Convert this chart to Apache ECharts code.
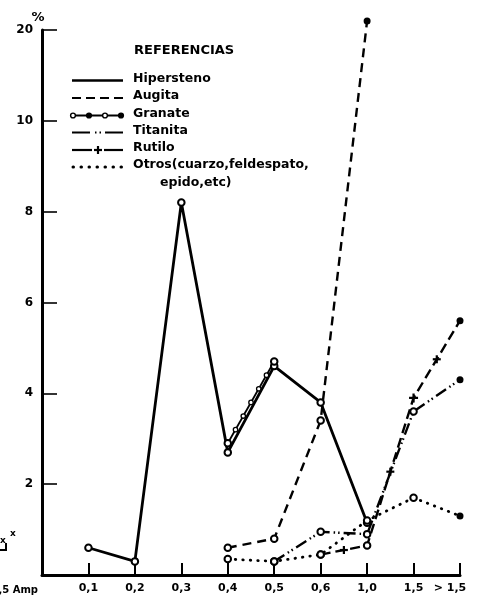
<!DOCTYPE html>
<html>
<head>
<meta charset="utf-8">
<script src="https://cdn.jsdelivr.net/npm/echarts@6/dist/echarts.min.js"></script>
<style>
  html, body { margin: 0; padding: 0; background: #fff; }
  #chart { width: 478px; height: 599px; }
</style>
</head>
<body>
<div id="chart"></div>
<script>
// Grain-size classes (first slot is the empty origin of the axis)
const categories = ['', '0,1', '0,2', '0,3', '0,4', '0,5', '0,6', '1,0', '1,5', '> 1,5'];

// Percentages per mineral and class
const hipersteno = [null, 0.6, 0.3, 8.2, 2.7, 4.6, 3.8, 1.15, null, null];
const augita     = [null, null, null, null, 0.6, 0.8, 3.4, 21, null, null];
const granate    = [null, null, null, null, 2.9, 4.7, null, null, null, null];
const titanita   = [null, null, null, null, null, 0.3, 0.95, 0.9, 3.6, 4.3];
const rutilo     = [null, null, null, null, null, null, 0.45, 0.65, 3.9, 5.6];
const otros      = [null, null, null, null, 0.35, 0.3, 0.45, 1.2, 1.7, 1.3];

// Values printed on the vertical axis
const yTickValues = [2, 4, 6, 8, 10, 20];

// The axis is linear up to 10 and compressed above it (10 -> 20 takes one step)
const BREAK = 10, SQUEEZE = 0.2;
function toAxis(v) {
  if (v == null) return null;
  return v <= BREAK ? v : BREAK + (v - BREAK) * SQUEEZE;
}

const INK = '#000';
const FONT = '"DejaVu Sans", "Liberation Sans", sans-serif';

function items(values, filledIdx, crossIdx) {
  return values.map(function (v, i) {
    if (v == null) return null;
    const it = { value: toAxis(v) };
    if (filledIdx && filledIdx.indexOf(i) >= 0) { it.symbol = 'circle'; it.symbolSize = 7; }
    if (crossIdx && crossIdx.indexOf(i) >= 0) {
      it.symbol = 'path://M3,0H5V3H8V5H5V8H3V5H0V3H3Z'; it.symbolSize = 9;
    }
    return it;
  });
}

function lineSeries(name, values, lineStyle, extra) {
  return Object.assign({
    name: name,
    type: 'line',
    data: items(values, extra && extra.filled, extra && extra.cross),
    connectNulls: false,
    clip: false,
    symbol: 'emptyCircle',
    symbolSize: 6.5,
    showSymbol: true,
    showAllSymbol: true,
    itemStyle: { color: INK, borderWidth: 1.6 },
    lineStyle: Object.assign({ color: INK, width: 2.4 }, lineStyle),
    emphasis: { disabled: true },
    animation: false,
    z: 3
  }, extra && extra.series);
}

// Decorations placed along each segment of a series, computed from the axis coordinates
function segmentDecor(values, draw) {
  return {
    type: 'custom',
    data: values.map(function (v, i) { return [i, v == null ? 0 : toAxis(v)]; }),
    clip: false,
    silent: true,
    animation: false,
    z: 4,
    renderItem: function (params, api) {
      const i = params.dataIndex;
      const a = values[i], b = values[i + 1];
      if (a == null || b == null) return;
      const p0 = api.coord([i, toAxis(a)]);
      const p1 = api.coord([i + 1, toAxis(b)]);
      return { type: 'group', children: draw(p0, p1) };
    }
  };
}

function crossAt(x, y, r) {
  return [
    { type: 'line', shape: { x1: x - r, y1: y, x2: x + r, y2: y }, style: { stroke: INK, lineWidth: 2.2 } },
    { type: 'line', shape: { x1: x, y1: y - r, x2: x, y2: y + r }, style: { stroke: INK, lineWidth: 2.2 } }
  ];
}

// Legend, drawn by hand so that each line pattern can be shown in full
const LX0 = 72, LX1 = 123, TX = 133;
const rowY = [78.5, 96, 113.5, 130.5, 148, 165];
const legendNames = ['Hipersteno', 'Augita', 'Granate', 'Titanita', 'Rutilo', 'Otros(cuarzo,feldespato,'];
const textFont = 'bold 12.5px ' + FONT;

function legendSample(k, y) {
  const s = y + 2;
  const base = { stroke: INK, lineWidth: 2.2 };
  switch (k) {
    case 0: return [{ type: 'line', shape: { x1: LX0, y1: s, x2: LX1, y2: s }, style: Object.assign({}, base, { lineWidth: 2.6 }) }];
    case 1: return [{ type: 'line', shape: { x1: LX0, y1: s, x2: LX1, y2: s }, style: Object.assign({}, base, { lineDash: [9, 5] }) }];
    case 2: {
      const out = [{ type: 'line', shape: { x1: LX0, y1: s, x2: LX1 - 2, y2: s }, style: Object.assign({}, base, { lineWidth: 1.8 }) }];
      [73, 89, 105, 121].forEach(function (x, j) {
        out.push({ type: 'circle', shape: { cx: x, cy: s, r: 2.4 }, style: { fill: j % 2 ? INK : '#fff', stroke: INK, lineWidth: 1.4 } });
      });
      return out;
    }
    case 3: return [{ type: 'line', shape: { x1: LX0, y1: s, x2: LX1, y2: s }, style: Object.assign({}, base, { lineDash: [18, 5, 1.5, 3, 1.5, 4] }) }];
    case 4: return [
      { type: 'line', shape: { x1: LX0, y1: s, x2: 92, y2: s }, style: base },
      { type: 'line', shape: { x1: 104, y1: s, x2: LX1, y2: s }, style: base }
    ].concat(crossAt(98, s, 4));
    default: return [{ type: 'line', shape: { x1: LX0 + 1, y1: s, x2: LX1, y2: s }, style: Object.assign({}, base, { lineWidth: 3, lineCap: 'round', lineDash: [0.5, 7.5] }) }];
  }
}

const legendGraphics = [{
  type: 'text', left: 134, top: 44,
  style: { text: 'REFERENCIAS', font: 'bold 13px ' + FONT, fill: INK }
}];
legendNames.forEach(function (n, k) {
  legendSample(k, rowY[k]).forEach(function (g) { legendGraphics.push(g); });
  legendGraphics.push({ type: 'text', x: TX, y: rowY[k], style: { text: n, font: textFont, fill: INK, verticalAlign: 'middle' } });
});
legendGraphics.push({ type: 'text', x: 160, y: 182.5, style: { text: 'epido,etc)', font: textFont, fill: INK, verticalAlign: 'middle' } });

// Edge of the neighbouring panel at the left border
const edgeGraphics = [
  { type: 'text', x: 38, y: 590, style: { text: '1,5 Amp', font: 'bold 10px ' + FONT, fill: INK, align: 'right', verticalAlign: 'middle' } },
  { type: 'text', x: 3, y: 541, style: { text: 'x', font: 'bold 9px ' + FONT, fill: INK, align: 'center', verticalAlign: 'middle' } },
  { type: 'text', x: 13, y: 534, style: { text: 'x', font: 'bold 9px ' + FONT, fill: INK, align: 'center', verticalAlign: 'middle' } },
  { type: 'polyline', shape: { points: [[0, 550], [6, 550], [6, 543]] }, style: { stroke: INK, lineWidth: 2, fill: null } }
];

const chart = echarts.init(document.getElementById('chart'), null, { renderer: 'canvas' });

const xData = categories.map(function (c, i) {
  return i === categories.length - 1 ? { value: c, textStyle: { padding: [0, 20, 0, 0] } } : c;
});

chart.setOption({
  backgroundColor: '#fff',
  animation: false,
  grid: { left: 42, right: 18, top: 30, bottom: 24, containLabel: false },
  xAxis: {
    type: 'category',
    data: xData,
    boundaryGap: false,
    axisLine: { lineStyle: { color: INK, width: 3 } },
    axisTick: { show: true, inside: true, length: 12, interval: 0, lineStyle: { color: INK, width: 2 } },
    axisLabel: { interval: 0, margin: 8, color: INK, fontFamily: FONT, fontWeight: 'bold', fontSize: 11 },
    splitLine: { show: false }
  },
  yAxis: {
    type: 'value',
    min: 0,
    max: toAxis(yTickValues[yTickValues.length - 1]),
    interval: 2,
    name: '%',
    nameLocation: 'end',
    nameGap: 3,
    nameTextStyle: { color: INK, fontFamily: FONT, fontWeight: 'bold', fontSize: 13, padding: [0, 8, 0, 0] },
    axisLine: { show: true, lineStyle: { color: INK, width: 3 } },
    axisTick: { show: true, inside: true, length: 15, lineStyle: { color: INK, width: 1.6 } },
    axisLabel: {
      margin: 9, color: INK, fontFamily: FONT, fontWeight: 'bold', fontSize: 12,
      formatter: function (a) {
        const hit = yTickValues.find(function (t) { return Math.abs(toAxis(t) - a) < 1e-6; });
        return hit == null ? '' : String(hit);
      }
    },
    splitLine: { show: false }
  },
  series: [
    lineSeries('Hipersteno', hipersteno, { width: 2.8 }),
    lineSeries('Augita', augita, { type: [9, 6] }, { filled: [7] }),
    lineSeries('Granate', granate, { width: 1.8 }),
    lineSeries('Titanita', titanita, { type: [12, 4, 1.5, 3, 1.5, 4] }, { filled: [9] }),
    lineSeries('Rutilo', rutilo, { type: [10, 5] }, { filled: [9], cross: [8] }),
    lineSeries('Otros', otros, { width: 2.8, cap: 'round', type: [0.5, 7] }, { filled: [9] }),
    segmentDecor(rutilo, function (p0, p1) {
      return crossAt((p0[0] + p1[0]) / 2, (p0[1] + p1[1]) / 2, 4);
    }),
    segmentDecor(granate, function (p0, p1) {
      const out = [];
      for (let k = 1; k < 6; k++) {
        const t = k / 6;
        out.push({ type: 'circle', shape: { cx: p0[0] + (p1[0] - p0[0]) * t, cy: p0[1] + (p1[1] - p0[1]) * t, r: 2.2 },
                   style: { fill: '#fff', stroke: INK, lineWidth: 1.3 } });
      }
      return out;
    })
  ],
  graphic: legendGraphics.concat(edgeGraphics)
});
</script>
</body>
</html>
